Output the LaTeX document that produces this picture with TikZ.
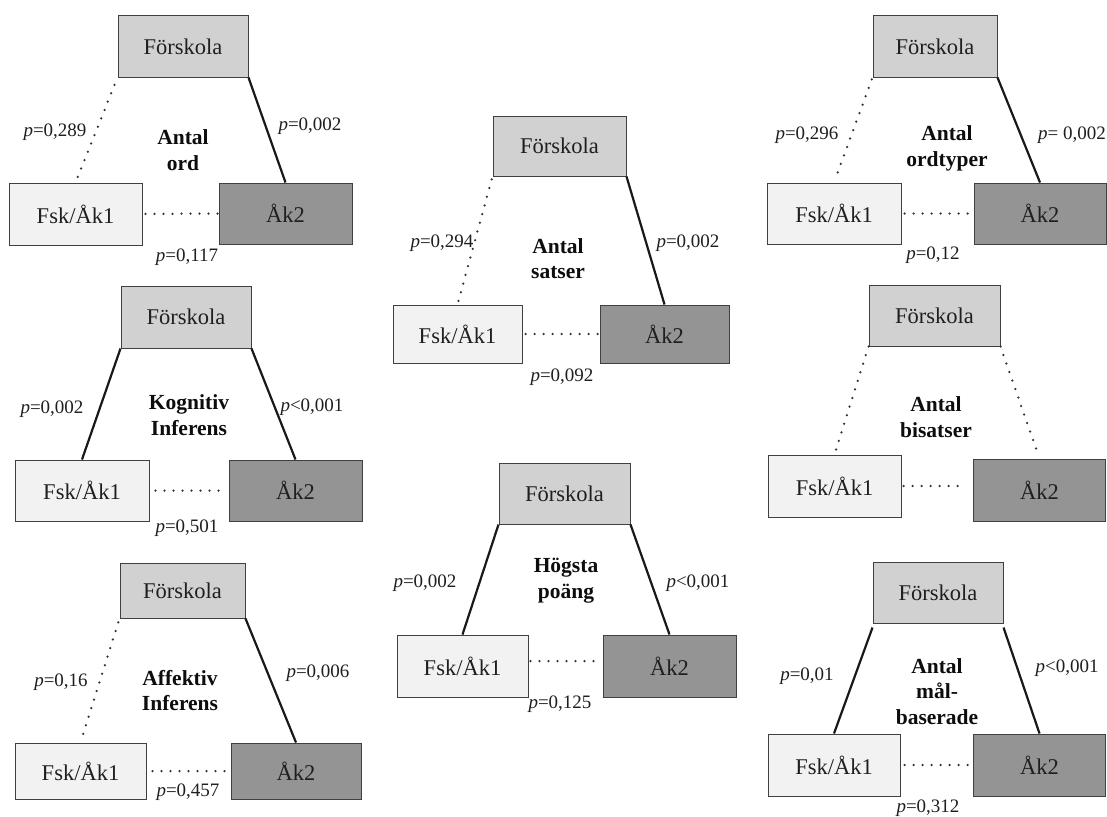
\documentclass[tikz,border=0pt]{standalone}
\usepackage{fontspec}
\setmainfont{Liberation Serif}
\begin{document}
\begin{tikzpicture}[x=1pt,y=-1pt,
  boxbase/.style={draw=black!75, line width=1pt, inner sep=0pt, text=black!88,
    font=\fontsize{22.5}{24}\selectfont},
  topbox/.style={boxbase, fill=black!18},
  lowbox/.style={boxbase, fill=black!5},
  darkbox/.style={boxbase, fill=black!42},
  plab/.style={font=\fontsize{19}{20}\selectfont, text=black!88, inner sep=0pt},
  ttl/.style={font=\fontsize{21.5}{25.5}\selectfont\bfseries, align=center, text=black!95, inner sep=0pt},
  sig/.style={line width=2.2pt, black!90},
  nsig/.style={line width=2.5pt, black!80, dash pattern=on 0pt off 9pt, line cap=round},
]
\useasboundingbox (0,0) rectangle (1107,816);
\fill[white] (0,0) rectangle (1107,816);

% ---------- Panel 1: Antal ord ----------
\node[topbox, minimum width=130, minimum height=61] (F1) at (183,46.5) {Förskola};
\node[lowbox, minimum width=133, minimum height=62] (L1) at (75.5,214) {Fsk/Åk1};
\node[darkbox, minimum width=133, minimum height=61] (R1) at (285.5,213.5) {Åk2};
\draw[nsig, shorten <=8pt] (F1.south west) -- (L1.north);
\draw[sig] (F1.south east) -- (R1.north);
\draw[nsig, shorten <=3pt] (L1.east) -- (R1.west);
\node[plab] (pl1) at (55,132) {\textit{p}=0,289};
\node[plab] (pr1) at (310,126) {\textit{p}=0,002};
\node[plab] (pb1) at (187,257) {\textit{p}=0,117};
\node[ttl] (t1) at (183,150) {Antal\\ord};

% ---------- Panel 2: Antal satser ----------
\node[topbox, minimum width=133, minimum height=60] (F2) at (559.5,146) {Förskola};
\node[lowbox, minimum width=129, minimum height=58] (L2) at (457.5,334) {Fsk/Åk1};
\node[darkbox, minimum width=129, minimum height=58] (R2) at (664.5,334) {Åk2};
\draw[nsig, shorten <=3pt] (F2.south west) -- (L2.north);
\draw[sig] (F2.south east) -- (R2.north);
\draw[nsig, shorten <=3pt] (L2.east) -- (R2.west);
\node[plab] (pl2) at (442,243) {\textit{p}=0,294};
\node[plab] (pr2) at (688,243) {\textit{p}=0,002};
\node[plab] (pb2) at (562,377) {\textit{p}=0,092};
\node[ttl] (t2) at (558,258.5) {Antal\\satser};

% ---------- Panel 3: Antal ordtyper ----------
\node[topbox, minimum width=124, minimum height=61] (F3) at (935,46.5) {Förskola};
\node[lowbox, minimum width=134, minimum height=61] (L3) at (834,213.5) {Fsk/Åk1};
\node[darkbox, minimum width=132, minimum height=61] (R3) at (1040,213.5) {Åk2};
\draw[nsig, shorten <=2pt, shorten >=6pt] (F3.south west) -- (L3.north);
\draw[sig] (F3.south east) -- (R3.north);
\draw[nsig, shorten <=3pt] (L3.east) -- (R3.west);
\node[plab] (pl3) at (807,135) {\textit{p}=0,296};
\node[plab] (pr3) at (1072,135) {\textit{p}= 0,002};
\node[plab] (pb3) at (933,255) {\textit{p}=0,12};
\node[ttl] (t3) at (947,148.5) {Antal\\ordtyper};

% ---------- Panel 4: Kognitiv Inferens ----------
\node[topbox, minimum width=130, minimum height=62] (F4) at (186,317) {Förskola};
\node[lowbox, minimum width=134, minimum height=61] (L4) at (82,490.5) {Fsk/Åk1};
\node[darkbox, minimum width=133, minimum height=61] (R4) at (295.5,490.5) {Åk2};
\draw[sig] (F4.south west) -- (L4.north);
\draw[sig] (F4.south east) -- (R4.north);
\draw[nsig, shorten <=6pt, shorten >=6pt] (L4.east) -- (R4.west);
\node[plab] (pl4) at (52,409) {\textit{p}=0,002};
\node[plab] (pr4) at (312,407) {\textit{p}<0,001};
\node[plab] (pb4) at (187,528) {\textit{p}=0,501};
\node[ttl] (t4) at (189,415) {Kognitiv\\Inferens};

% ---------- Panel 5: Antal bisatser ----------
\node[topbox, minimum width=131, minimum height=61] (F5) at (934.5,315.5) {Förskola};
\node[lowbox, minimum width=133, minimum height=62] (L5) at (834.5,486) {Fsk/Åk1};
\node[darkbox, minimum width=132, minimum height=62] (R5) at (1039.5,490) {Åk2};
\draw[nsig, shorten >=2pt] (F5.south west) -- (L5.north);
\draw[nsig, shorten >=3pt] (F5.south east) -- (R5.north);
\draw[nsig, shorten <=2pt, shorten >=9pt] (L5.east) -- (L5.east -| R5.west);
\node[ttl] (t5) at (936,417) {Antal\\bisatser};

% ---------- Panel 6: Affektiv Inferens ----------
\node[topbox, minimum width=125, minimum height=55] (F6) at (182.5,590.5) {Förskola};
\node[lowbox, minimum width=131, minimum height=56] (L6) at (80.5,771) {Fsk/Åk1};
\node[darkbox, minimum width=130, minimum height=56] (R6) at (296,771) {Åk2};
\draw[nsig, shorten <=4pt, shorten >=2pt] (F6.south west) -- (L6.north);
\draw[sig] (F6.south east) -- (R6.north);
\draw[nsig, shorten <=6pt] (L6.east) -- (R6.west);
\node[plab] (pl6) at (61,682) {\textit{p}=0,16};
\node[plab] (pr6) at (318,673) {\textit{p}=0,006};
\node[plab] (pb6) at (188,792) {\textit{p}=0,457};
\node[ttl] (t6) at (180,690.5) {Affektiv\\Inferens};

% ---------- Panel 7: Högsta poäng ----------
\node[topbox, minimum width=131, minimum height=61] (F7) at (564.5,493.5) {Förskola};
\node[lowbox, minimum width=131, minimum height=62] (L7) at (462.5,666) {Fsk/Åk1};
\node[darkbox, minimum width=133, minimum height=62] (R7) at (669.5,666) {Åk2};
\draw[sig] (F7.south west) -- (L7.north);
\draw[sig] (F7.south east) -- (R7.north);
\draw[nsig, shorten <=2pt, shorten >=2pt] ([yshift=5pt]L7.east) -- ([yshift=5pt]R7.west);
\node[plab] (pl7) at (425,583) {\textit{p}=0,002};
\node[plab] (pr7) at (698,583) {\textit{p}<0,001};
\node[plab] (pb7) at (560,704) {\textit{p}=0,125};
\node[ttl] (t7) at (566,580.5) {Högsta\\poäng};

% ---------- Panel 8: Antal målbaserade ----------
\node[topbox, minimum width=130, minimum height=61] (F8) at (938,592.5) {Förskola};
\node[lowbox, minimum width=132, minimum height=62] (L8) at (834,765) {Fsk/Åk1};
\node[darkbox, minimum width=132, minimum height=62] (R8) at (1039.5,765) {Åk2};
\draw[sig] ([yshift=-4pt]F8.south west) -- (L8.north);
\draw[sig] ([yshift=-4pt]F8.south east) -- (R8.north);
\draw[nsig, shorten <=4pt] (L8.east) -- (R8.west);
\node[plab] (pl8) at (807,676) {\textit{p}=0,01};
\node[plab] (pr8) at (1067,668) {\textit{p}<0,001};
\node[plab] (pb8) at (928,808) {\textit{p}=0,312};
\node[ttl] (t8) at (937,691.5) {Antal\\mål-\\baserade};
\end{tikzpicture}
\end{document}
